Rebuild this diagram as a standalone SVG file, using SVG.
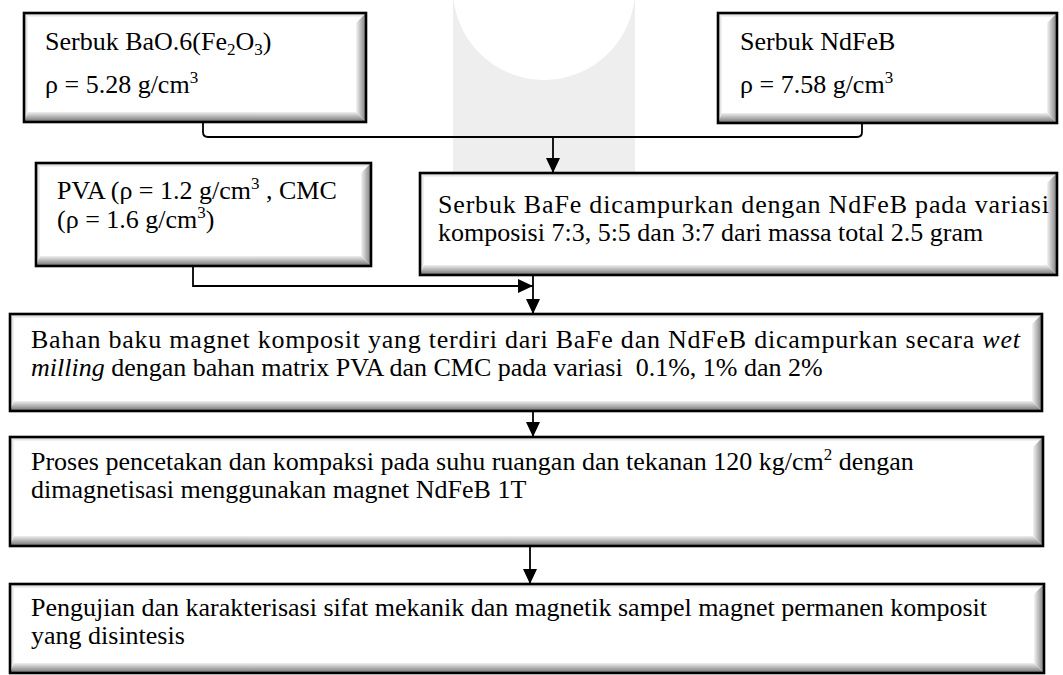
<svg xmlns="http://www.w3.org/2000/svg" width="1063" height="675" viewBox="0 0 1063 675">
<defs>
<style>
text{font-family:"Liberation Serif","Times New Roman",serif;font-size:26px;fill:#000}
.frame{fill:none;stroke:#000;stroke-width:2.6}
.bg{fill:#fff}
.br{fill:url(#gR)}
.bb{fill:url(#gB)}
.bt{fill:url(#gT)}
.bl{fill:url(#gL)}
.conn{fill:none;stroke:#000;stroke-width:1.8}
.sup{font-size:17px}
.it{font-style:italic}
</style>
<linearGradient id="gR" x1="0" y1="0" x2="1" y2="0"><stop offset="0" stop-color="#f4f4f4"/><stop offset="1" stop-color="#7a7a7a"/></linearGradient>
<linearGradient id="gB" x1="0" y1="0" x2="0" y2="1"><stop offset="0" stop-color="#f0f0f0"/><stop offset="1" stop-color="#6f6f6f"/></linearGradient>
<linearGradient id="gT" x1="0" y1="0" x2="0" y2="1"><stop offset="0" stop-color="#c8c8c8"/><stop offset="1" stop-color="#f6f6f6"/></linearGradient>
<linearGradient id="gL" x1="0" y1="0" x2="1" y2="0"><stop offset="0" stop-color="#c8c8c8"/><stop offset="1" stop-color="#f6f6f6"/></linearGradient>
<marker id="ah" markerUnits="userSpaceOnUse" markerWidth="16" markerHeight="14" refX="15" refY="7" orient="auto"><path d="M0,0 L15,7 L0,14 z" fill="#000"/></marker>
</defs>
<rect width="1063" height="675" fill="#fff"/>
<g id="watermark">
<rect x="453" y="0" width="182" height="275" fill="#eeeeee"/>
<circle cx="544" cy="-11" r="91" fill="#fff"/>
</g>
<g id="connectors">
<path class="conn" d="M203,123 V132 Q203,137 208,137 H857 Q862,137 862,132 V123"/>
<path class="conn" d="M553,137 V173" marker-end="url(#ah)"/>
<path class="conn" d="M193,266 V286 H533" marker-end="url(#ah)"/>
<path class="conn" d="M533,275 V314" marker-end="url(#ah)"/>
<path class="conn" d="M533,411 V437" marker-end="url(#ah)"/>
<path class="conn" d="M530,546 V584" marker-end="url(#ah)"/>
</g>
<g id="node-bao">
<rect class="bg" x="24" y="13" width="342" height="109"/>
<polygon class="bt" points="24,13 366,13 362,17 28,17"/>
<polygon class="bl" points="24,13 28,17 28,112 24,122"/>
<polygon class="br" points="356,23 366,13 366,122 356,112"/>
<polygon class="bb" points="28,112 356,112 366,122 24,122"/>
<rect class="frame" x="24" y="13" width="342" height="109"/>
<text x="45" y="50">Serbuk BaO.6(Fe<tspan class="sup" dy="5">2</tspan><tspan dy="-5">O</tspan><tspan class="sup" dy="5">3</tspan><tspan dy="-5">)</tspan></text>
<text x="45" y="93">ρ = 5.28 g/cm<tspan class="sup" dy="-10">3</tspan></text>
</g>
<g id="node-ndfeb">
<rect class="bg" x="718" y="13" width="339" height="110"/>
<polygon class="bt" points="718,13 1057,13 1053,17 722,17"/>
<polygon class="bl" points="718,13 722,17 722,113 718,123"/>
<polygon class="br" points="1047,23 1057,13 1057,123 1047,113"/>
<polygon class="bb" points="722,113 1047,113 1057,123 718,123"/>
<rect class="frame" x="718" y="13" width="339" height="110"/>
<text x="740" y="50">Serbuk NdFeB</text>
<text x="740" y="93">ρ = 7.58 g/cm<tspan class="sup" dy="-10">3</tspan></text>
</g>
<g id="node-pva">
<rect class="bg" x="36" y="163" width="335" height="103"/>
<polygon class="bt" points="36,163 371,163 367,167 40,167"/>
<polygon class="bl" points="36,163 40,167 40,256 36,266"/>
<polygon class="br" points="361,173 371,163 371,266 361,256"/>
<polygon class="bb" points="40,256 361,256 371,266 36,266"/>
<rect class="frame" x="36" y="163" width="335" height="103"/>
<text x="57" y="199">PVA (ρ = 1.2 g/cm<tspan class="sup" dy="-10">3</tspan><tspan dy="10"> , CMC</tspan></text>
<text x="57" y="228">(ρ = 1.6 g/cm<tspan class="sup" dy="-10">3</tspan><tspan dy="10">)</tspan></text>
</g>
<g id="node-bafe">
<rect class="bg" x="420" y="173" width="637" height="102"/>
<polygon class="bt" points="420,173 1057,173 1053,177 424,177"/>
<polygon class="bl" points="420,173 424,177 424,265 420,275"/>
<polygon class="br" points="1047,183 1057,173 1057,275 1047,265"/>
<polygon class="bb" points="424,265 1047,265 1057,275 420,275"/>
<rect class="frame" x="420" y="173" width="637" height="102"/>
<text x="438" y="213" textLength="611" lengthAdjust="spacing">Serbuk BaFe dicampurkan dengan NdFeB pada variasi</text>
<text x="438" y="241">komposisi 7:3, 5:5 dan 3:7 dari massa total 2.5 gram</text>
</g>
<g id="node-bahan">
<rect class="bg" x="10" y="314" width="1032" height="97"/>
<polygon class="bt" points="10,314 1042,314 1038,318 14,318"/>
<polygon class="bl" points="10,314 14,318 14,401 10,411"/>
<polygon class="br" points="1032,324 1042,314 1042,411 1032,401"/>
<polygon class="bb" points="14,401 1032,401 1042,411 10,411"/>
<rect class="frame" x="10" y="314" width="1032" height="97"/>
<text x="31" y="348" textLength="989" lengthAdjust="spacing">Bahan baku magnet komposit yang terdiri dari BaFe dan NdFeB dicampurkan secara <tspan class="it">wet</tspan></text>
<text x="31" y="376" style="white-space:pre"><tspan class="it">milling</tspan> dengan bahan matrix PVA dan CMC pada variasi  0.1%, 1% dan 2%</text>
</g>
<g id="node-proses">
<rect class="bg" x="10" y="437" width="1033" height="109"/>
<polygon class="bt" points="10,437 1043,437 1039,441 14,441"/>
<polygon class="bl" points="10,437 14,441 14,536 10,546"/>
<polygon class="br" points="1033,447 1043,437 1043,546 1033,536"/>
<polygon class="bb" points="14,536 1033,536 1043,546 10,546"/>
<rect class="frame" x="10" y="437" width="1033" height="109"/>
<text x="31" y="470">Proses pencetakan dan kompaksi pada suhu ruangan dan tekanan 120 kg/cm<tspan class="sup" dy="-10">2</tspan><tspan dy="10"> dengan</tspan></text>
<text x="31" y="498">dimagnetisasi menggunakan magnet NdFeB 1T</text>
</g>
<g id="node-pengujian">
<rect class="bg" x="10" y="584" width="1034" height="89"/>
<polygon class="bt" points="10,584 1044,584 1040,588 14,588"/>
<polygon class="bl" points="10,584 14,588 14,663 10,673"/>
<polygon class="br" points="1034,594 1044,584 1044,673 1034,663"/>
<polygon class="bb" points="14,663 1034,663 1044,673 10,673"/>
<rect class="frame" x="10" y="584" width="1034" height="89"/>
<text x="31" y="616">Pengujian dan karakterisasi sifat mekanik dan magnetik sampel magnet permanen komposit</text>
<text x="31" y="644">yang disintesis</text>
</g>
</svg>
